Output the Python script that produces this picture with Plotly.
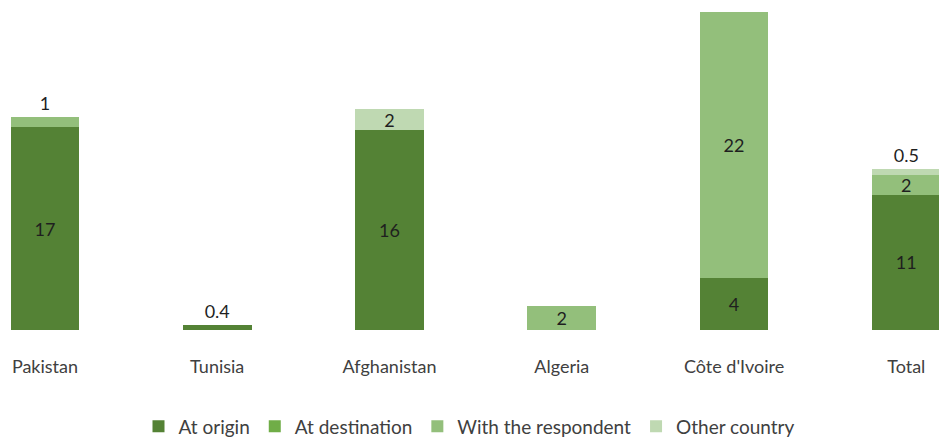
import plotly.graph_objects as go

categories = ["Pakistan", "Tunisia", "Afghanistan", "Algeria", "Côte d'Ivoire", "Total"]

at_origin = [16.6, 0.4, 16.4, None, 4.3, 11.1]
at_destination = [None, None, None, None, None, None]
with_respondent = [0.9, None, None, 2.0, 21.8, 1.6]
other_country = [None, None, 1.7, None, None, 0.5]

lbl_origin = ["17", "0.4", "16", "", "4", "11"]
lbl_destination = ["", "", "", "", "", ""]
lbl_respondent = ["1", "", "", "2", "22", "2"]
lbl_other = ["", "", "2", "", "", "0.5"]

pos_origin = ["inside", "outside", "inside", "inside", "inside", "inside"]
pos_respondent = ["outside", "inside", "inside", "inside", "inside", "inside"]
pos_other = ["inside", "inside", "inside", "inside", "inside", "outside"]

FONT = "Lato, 'Open Sans', sans-serif"
TXT = "#1f1f1f"

fig = go.Figure()
series = [
    ("At origin", at_origin, lbl_origin, pos_origin, "#548235"),
    ("At destination", at_destination, lbl_destination, ["inside"] * 6, "#70AD47"),
    ("With the respondent", with_respondent, lbl_respondent, pos_respondent, "#93BF7B"),
    ("Other country", other_country, lbl_other, pos_other, "#BFD9B2"),
]
for name, vals, lbls, pos, col in series:
    fig.add_trace(go.Bar(
        x=categories, y=vals, name=name, text=lbls, textposition=pos,
        textangle=0,
        insidetextanchor="middle", constraintext="none", cliponaxis=False,
        marker=dict(color=col, line=dict(width=0)),
        textfont=dict(family=FONT, size=18, color=TXT),
        insidetextfont=dict(family=FONT, size=18, color=TXT),
        outsidetextfont=dict(family=FONT, size=18, color=TXT),
        width=0.4, hoverinfo="skip",
    ))

fig.update_layout(
    barmode="stack",
    width=939, height=437,
    margin=dict(l=0, r=0, t=0, b=107, autoexpand=False),
    paper_bgcolor="white", plot_bgcolor="white",
    font=dict(family=FONT, size=18, color="#404040"),
    uniformtext=dict(minsize=18, mode="show"),
    xaxis=dict(range=[-0.261, 5.19], showgrid=False, showline=False, zeroline=False,
               automargin=False,
               ticks="", ticklabelstandoff=24, tickfont=dict(size=18, color="#404040")),
    yaxis=dict(range=[0, 27.05], visible=False, showgrid=False, zeroline=False,
               automargin=False),
    legend=dict(orientation="h", x=0.5, xanchor="center", y=-0.292, yanchor="middle",
                font=dict(size=19, color="#404040"), traceorder="normal",
                itemwidth=30, itemclick=False, itemdoubleclick=False),
    showlegend=True,
)

fig.write_html("out.html")
